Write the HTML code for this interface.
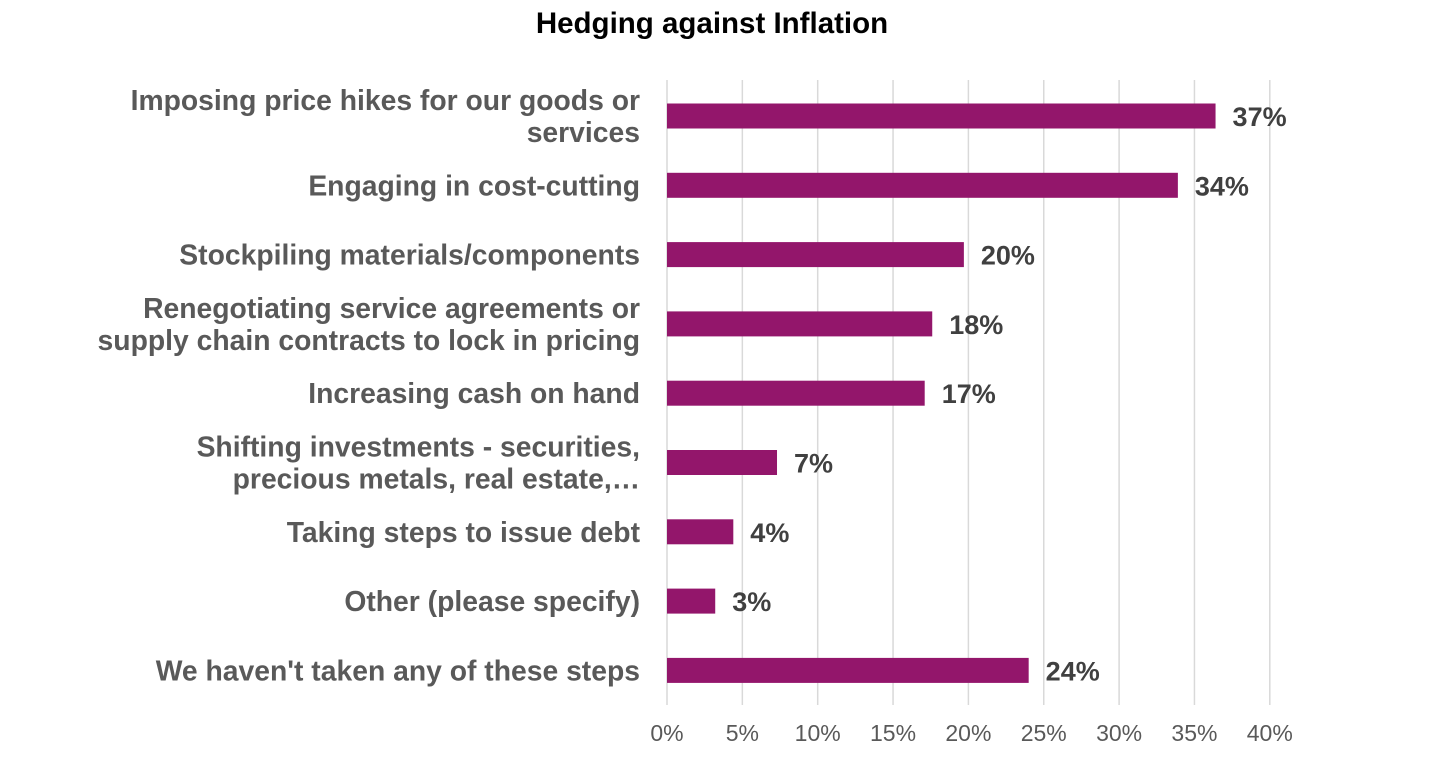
<!DOCTYPE html>
<html><head><meta charset="utf-8"><style>
body{margin:0;background:#fff;width:1440px;height:763px;overflow:hidden;font-family:"Liberation Sans",Arial,sans-serif}
</style></head><body>
<svg id="chart" width="1440" height="763" xmlns="http://www.w3.org/2000/svg">
<text x="712" y="33" text-anchor="middle" font-size="29.5" font-weight="bold" fill="#000">Hedging against Inflation</text>
<g id="grid"></g><g id="bars"></g><g id="cats"></g><g id="ticks"></g>
</svg>
<script>
const categories=[["Imposing price hikes for our goods or","services"],["Engaging in cost-cutting"],["Stockpiling materials/components"],["Renegotiating service agreements or","supply chain contracts to lock in pricing"],["Increasing cash on hand"],["Shifting investments - securities,","precious metals, real estate,…"],["Taking steps to issue debt"],["Other (please specify)"],["We haven't taken any of these steps"]];
const values=[36.4,33.9,19.7,17.6,17.1,7.3,4.4,3.2,24.0];
const valueLabels=["37%","34%","20%","18%","17%","7%","4%","3%","24%"];
const tickValues=[0,5,10,15,20,25,30,35,40];
const NS="http://www.w3.org/2000/svg";
const x0=667,pxPer=15.07,yTop=80,yBottom=705,band=69.3,firstC=116;
const xs=v=>x0+v*pxPer;
const yc=i=>firstC+i*band;
function mk(tag,attrs,parent){const e=document.createElementNS(NS,tag);for(const k in attrs)e.setAttribute(k,attrs[k]);document.getElementById(parent).appendChild(e);return e;}
tickValues.forEach(t=>{
 const l=mk('line',{x1:xs(t),x2:xs(t),y1:yTop,y2:yBottom,stroke:'#d9d9d9','stroke-width':1.5},'grid');
 
 
 const tx=mk('text',{x:xs(t),y:741,'text-anchor':'middle','font-size':23,fill:'#595959'},'ticks');
 tx.textContent=t+'%';
 
 
});
values.forEach((v,i)=>{
 const r=mk('rect',{x:xs(0),y:yc(i)-12.5,width:xs(v)-xs(0),height:25,fill:'#93166b'},'bars');
 
 
 const t=mk('text',{x:xs(v)+17,y:yc(i)+10,'font-size':27,'font-weight':'bold',fill:'#404040'},'bars');
 t.textContent=valueLabels[i];
 
 
 const lines=categories[i];
 lines.forEach((s,j)=>{
  const off=(j-(lines.length-1)/2)*32;
  const c=mk('text',{x:640,y:yc(i)+off+10,'text-anchor':'end','font-size':28.3,'font-weight':'bold',fill:'#595959'},'cats');
  c.textContent=s;
  
  
 });
});
</script>
</body></html>
